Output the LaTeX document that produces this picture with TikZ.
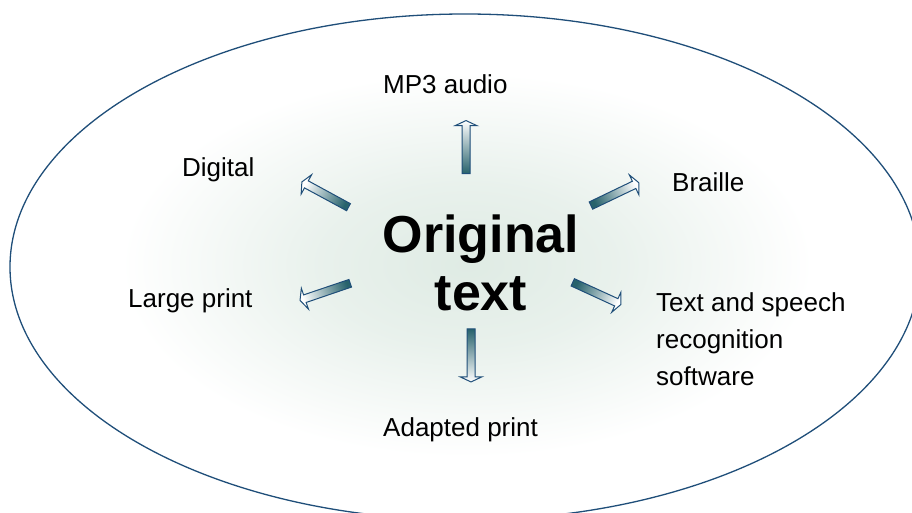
\documentclass[tikz,border=0pt]{standalone}
\usepackage{fontspec}
\setmainfont{Liberation Sans}
\usetikzlibrary{shapes.arrows}
\definecolor{rim}{HTML}{1F4E79}
\definecolor{glow}{HTML}{DFEBE4}
\definecolor{shaft}{HTML}{27626C}
\pgfdeclareradialshading{glowshade}{\pgfpoint{0bp}{0bp}}{color(0bp)=(glow); color(8bp)=(glow!70!white); color(19bp)=(white); color(50bp)=(white)}

\begin{document}
\begin{tikzpicture}[x=1pt, y=-1pt,
  outlabel/.style={anchor=base west, font=\fontsize{26}{37}\selectfont, align=left, inner sep=0pt},
  blockarrow/.style={single arrow, draw=rim, line width=1pt, minimum height=53pt, inner sep=3.5pt, single arrow head extend=7pt, single arrow tip angle=130, single arrow head indent=0pt, bottom color=shaft, top color=white, shading angle=#1, sloped, allow upside down}
]
\useasboundingbox (0,0) rectangle (912,513);

% background
\shade[shading=glowshade] (467,265) ellipse [x radius=455, y radius=253];
\draw[rim, line width=1.3pt] (465,267) ellipse [x radius=455, y radius=253];

% centre and labels
\node[font=\fontsize{52}{58}\selectfont\bfseries, align=center, anchor=base, inner sep=0pt] (orig) at (481,310) {Original\\text};
\node[outlabel] (mp3) at (383,93.5) {MP3 audio};
\node[outlabel] (digital) at (182,176) {Digital};
\node[outlabel] (braille) at (672,191.7) {Braille};
\node[outlabel] (large) at (128,307.3) {Large print};
\node[outlabel] (speech) at (656,385.5) {Text and speech\\recognition\\software};
\node[outlabel] (adapted) at (383,436) {Adapted print};

% arrow ends
\coordinate (mp3T) at (466,175);  \coordinate (mp3H) at (466,121);
\coordinate (digT) at (350,208);  \coordinate (digH) at (302,182);
\coordinate (brlT) at (590,206);  \coordinate (brlH) at (638,183);
\coordinate (lrgT) at (351,283);  \coordinate (lrgH) at (301,300);
\coordinate (spcT) at (572,282);  \coordinate (spcH) at (620,304);
\coordinate (adpT) at (471,328);  \coordinate (adpH) at (471,381);

\path (mp3T) -- node[blockarrow=0] (toMp3) {} (mp3H);
\path (digT) -- node[blockarrow=61.6] (toDig) {} (digH);
\path (brlT) -- node[blockarrow=-64.4] (toBrl) {} (brlH);
\path (lrgT) -- node[blockarrow=108.8] (toLrg) {} (lrgH);
\path (spcT) -- node[blockarrow=-114.6] (toSpc) {} (spcH);
\path (adpT) -- node[blockarrow=180] (toAdp) {} (adpH);
\end{tikzpicture}
\end{document}
